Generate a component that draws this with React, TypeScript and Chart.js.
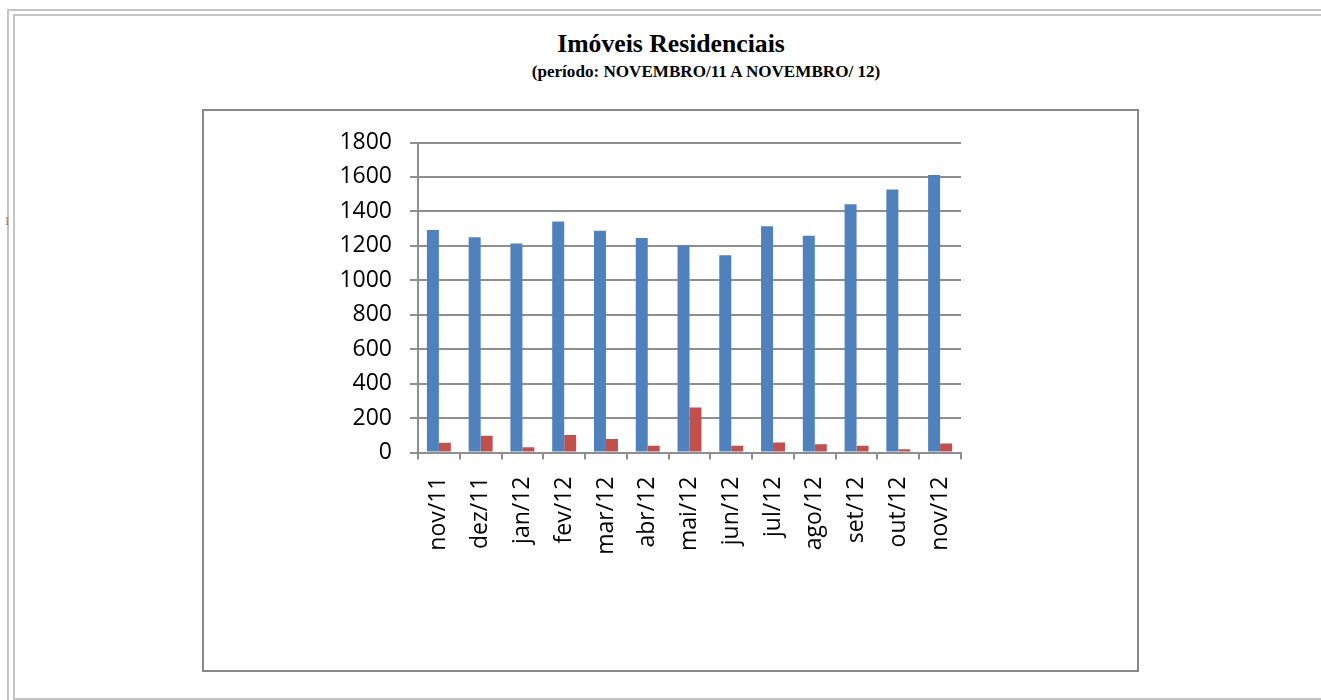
import React, { useEffect, useRef } from "react";
import { Chart, registerables } from "chart.js";

Chart.register(...registerables);

const titleText = "Imóveis Residenciais";
const subtitleText = "(período: NOVEMBRO/11 A NOVEMBRO/ 12)";

const categories = [
  "nov/11", "dez/11", "jan/12", "fev/12", "mar/12", "abr/12", "mai/12",
  "jun/12", "jul/12", "ago/12", "set/12", "out/12", "nov/12",
];
const serie1Values = [1292, 1250, 1213, 1341, 1287, 1246, 1203, 1145, 1314, 1259, 1442, 1527, 1612];
const serie2Values = [56, 97, 31, 101, 79, 39, 262, 39, 58, 48, 39, 19, 52];
const yMin = 0;
const yMax = 1800;
const yStep = 200;

const BLUE = "#4F81BD";
const RED = "#C0504D";
const GRID = "#8e8e8e";
const AXIS_FONT = { family: '"Open Sans", sans-serif', size: 23 };
const SERIF = '"Liberation Serif", "Times New Roman", serif';

export default function App() {
  const canvasRef = useRef<HTMLCanvasElement | null>(null);

  useEffect(() => {
    const canvas = canvasRef.current;
    if (!canvas) return;
    const chart = new Chart(canvas, {
      type: "bar",
      data: {
        labels: categories,
        datasets: [
          {
            label: "Série1",
            data: serie1Values,
            backgroundColor: BLUE,
            borderWidth: 0,
            barPercentage: 1,
            categoryPercentage: 0.574,
          },
          {
            label: "Série2",
            data: serie2Values,
            backgroundColor: RED,
            borderWidth: 0,
            barPercentage: 1,
            categoryPercentage: 0.574,
          },
        ],
      },
      options: {
        responsive: false,
        animation: false,
        devicePixelRatio: 1,
        layout: { padding: { left: 300, right: 360, top: 142.5, bottom: 0 } },
        plugins: {
          legend: { display: false },
          tooltip: { enabled: false },
          title: { display: false },
        },
        scales: {
          x: {
            afterFit: (scale: any) => {
              scale.height = 247.5;
            },
            grid: {
              offset: true,
              drawOnChartArea: false,
              drawTicks: true,
              tickLength: 7,
              color: GRID,
              lineWidth: 2,
            },
            border: { display: true, color: GRID, width: 2 },
            ticks: {
              autoSkip: false,
              minRotation: 90,
              maxRotation: 90,
              padding: 17,
              color: "#000000",
              font: AXIS_FONT,
            },
          },
          y: {
            min: yMin,
            max: yMax,
            afterFit: (scale: any) => {
              scale.width = 118;
            },
            grid: {
              color: GRID,
              lineWidth: 2,
              drawTicks: true,
              tickLength: 8,
            },
            border: { display: true, color: GRID, width: 2 },
            ticks: {
              stepSize: yStep,
              padding: 18,
              color: "#000000",
              font: AXIS_FONT,
              callback: (v: any) => String(v),
            },
          },
        },
      },
    } as any);
    return () => chart.destroy();
  }, []);

  return (
    <div
      style={{
        position: "absolute",
        left: 0,
        top: 0,
        width: 1321,
        height: 700,
        overflow: "hidden",
        background: "#ffffff",
      }}
    >
      <div
        style={{
          position: "absolute",
          left: 7,
          top: 9,
          width: 1500,
          height: 900,
          border: "2px solid #c4c4c4",
          boxSizing: "border-box",
        }}
      />
      <div
        style={{
          position: "absolute",
          left: 13,
          top: 14,
          width: 1500,
          height: 686,
          border: "2px solid #c4c4c4",
          boxSizing: "border-box",
        }}
      />
      <span
        style={{
          position: "absolute",
          left: 5,
          top: 214,
          fontFamily: SERIF,
          fontSize: 13,
          lineHeight: "13px",
          color: "#8a8a8a",
        }}
      >
        I
      </span>
      <div
        style={{
          position: "absolute",
          left: 202,
          top: 109,
          width: 937,
          height: 563,
          border: "2px solid #888888",
          boxSizing: "border-box",
          background: "#ffffff",
        }}
      />
      <div
        style={{
          position: "absolute",
          left: 471,
          width: 400,
          top: 30.5,
          textAlign: "center",
          fontFamily: SERIF,
          fontWeight: "bold",
          fontSize: 25.7,
          lineHeight: 1,
          whiteSpace: "nowrap",
          color: "#000000",
        }}
      >
        {titleText}
      </div>
      <div
        style={{
          position: "absolute",
          left: 406,
          width: 600,
          top: 62.5,
          textAlign: "center",
          fontFamily: SERIF,
          fontWeight: "bold",
          fontSize: 17.1,
          lineHeight: 1,
          whiteSpace: "nowrap",
          color: "#000000",
        }}
      >
        {subtitleText}
      </div>
      <canvas
        ref={canvasRef}
        width={1321}
        height={700}
        style={{ position: "absolute", left: 0, top: 0, width: 1321, height: 700, display: "block" }}
      />
    </div>
  );
}
